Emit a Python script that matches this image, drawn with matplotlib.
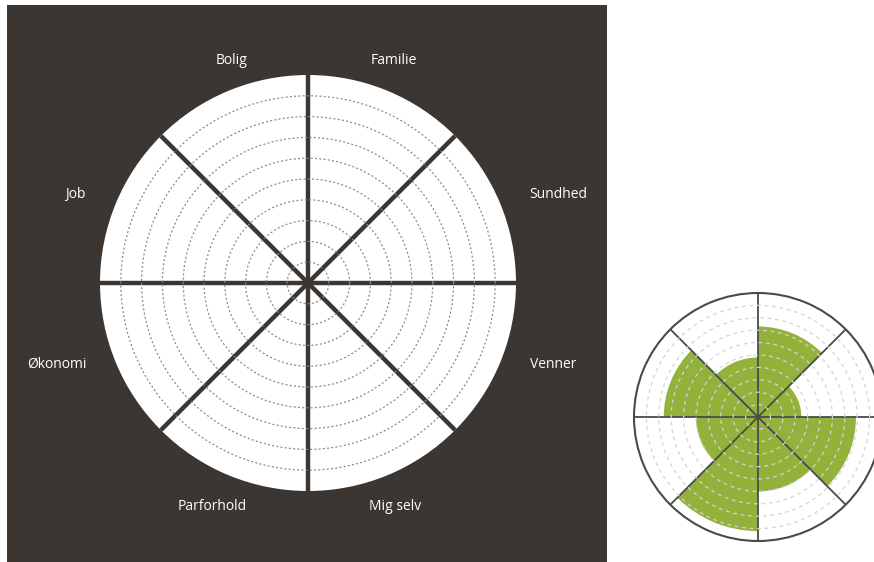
import numpy as np
import matplotlib.pyplot as plt
from matplotlib.patches import Rectangle

# life areas, counter-clockwise starting at 3 o'clock
categories = ['Sundhed', 'Familie', 'Bolig', 'Job', 'Økonomi', 'Parforhold', 'Mig selv', 'Venner']
# example scores (0-10) shown in the small green wheel
scores = [3.5, 7.3, 4.8, 7.6, 5.0, 9.2, 6.0, 7.9]

W, H = 874, 562
dark = '#3b3632'
green = '#93b23c'

fig = plt.figure(figsize=(W / 100, H / 100), dpi=100)
fig.patch.set_facecolor('white')

# dark panel behind the empty wheel
fig.patches.append(Rectangle((7 / W, 0), 600 / W, 557 / H, transform=fig.transFigure,
                             facecolor=dark, edgecolor='none', zorder=-1))


def polar_at(cx, cy, r):
    # place a polar axes by pixel center and radius
    a = fig.add_axes([(cx - r) / W, (H - cy - r) / H, 2 * r / W, 2 * r / H], projection='polar')
    a.set_zorder(2)
    return a


sector = np.deg2rad(np.arange(0, 360, 45))

# big empty wheel
ax = polar_at(308, 283, 208)
ax.set_facecolor('white')
ax.set_ylim(0, 10)
ax.set_xticks(sector)
ax.set_yticks(range(1, 10))
ax.set_xticklabels([])
ax.set_yticklabels([])
ax.tick_params(length=0)
ax.xaxis.grid(True, color=dark, linewidth=3.2, linestyle='-')
ax.yaxis.grid(True, color='#8a8a8a', linewidth=0.9, linestyle=(0, (1.6, 1.8)))
ax.spines['polar'].set_visible(False)

# labels around the big wheel (pixel positions of text centers)
label_xy = {'Bolig': (232, 61), 'Familie': (394, 61), 'Sundhed': (558, 195), 'Job': (75, 195),
            'Økonomi': (57, 364), 'Venner': (553, 364), 'Parforhold': (212, 507), 'Mig selv': (395, 507)}
for name in categories:
    x, y = label_xy[name]
    fig.text(x / W, 1 - y / H, name, color='white', fontsize=10, family=['Open Sans', 'DejaVu Sans'],
             ha='center', va='center', zorder=3)

# small filled wheel
ax2 = polar_at(758, 417, 124)
ax2.set_facecolor('white')
ax2.bar(sector + np.deg2rad(22.5), scores, width=np.deg2rad(45), color=green, edgecolor='none')
ax2.set_ylim(0, 10)
ax2.set_xticks(sector)
ax2.set_yticks(range(1, 10))
ax2.set_xticklabels([])
ax2.set_yticklabels([])
ax2.tick_params(length=0)
ax2.xaxis.grid(True, color='#4a4a4a', linewidth=1.3, linestyle='-')
ax2.yaxis.grid(True, color='#d4d4d4', linewidth=0.9, linestyle=(0, (3, 3)))
ax2.spines['polar'].set_color('#4a4a4a')
ax2.spines['polar'].set_linewidth(1.5)

fig.savefig('out.png', dpi=100)
